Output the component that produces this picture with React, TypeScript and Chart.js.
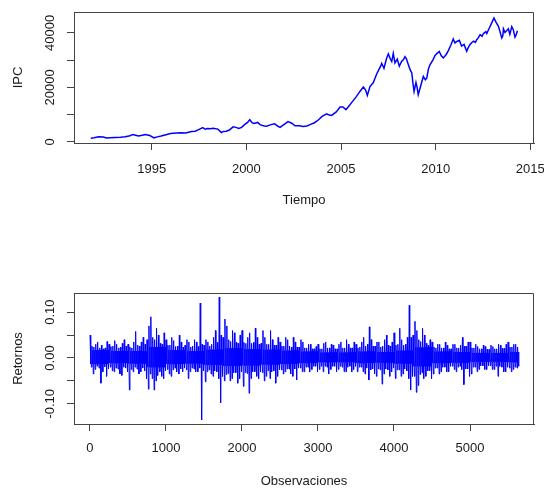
import React, { useEffect, useRef } from "react";
import { Chart, registerables } from "chart.js";

Chart.register(...registerables);

// ---------- Top panel: IPC index over time ----------
const ipcYears = [
  1991.78, 1991.95, 1992.2, 1992.45, 1992.6, 1992.8, 1993.05, 1993.35, 1993.6, 1993.85,
  1994.0, 1994.15, 1994.3, 1994.5, 1994.66, 1994.9, 1995.12, 1995.3, 1995.5, 1995.75,
  1996.0, 1996.3, 1996.55, 1996.8, 1997.1, 1997.3, 1997.45, 1997.7, 1997.82, 1997.94,
  1998.1, 1998.24, 1998.5, 1998.68, 1998.8, 1998.94, 1999.1, 1999.3, 1999.45, 1999.6,
  1999.75, 1999.9, 2000.05, 2000.18, 2000.3, 2000.4, 2000.6, 2000.72, 2000.85, 2000.97,
  2001.07, 2001.3, 2001.5, 2001.65, 2001.78, 2002.0, 2002.2, 2002.4, 2002.57, 2002.8,
  2003.0, 2003.2, 2003.36, 2003.6, 2003.8, 2004.0, 2004.24, 2004.38, 2004.5, 2004.75,
  2004.95, 2005.1, 2005.26, 2005.4, 2005.56, 2005.8, 2006.0, 2006.18, 2006.3, 2006.39,
  2006.53, 2006.7, 2006.89, 2007.0, 2007.08, 2007.15, 2007.27, 2007.4, 2007.5, 2007.6,
  2007.68, 2007.76, 2007.85, 2007.97, 2008.08, 2008.2, 2008.3, 2008.38, 2008.45, 2008.55,
  2008.65, 2008.74, 2008.8, 2008.86, 2008.96, 2009.02, 2009.08, 2009.2, 2009.35, 2009.45,
  2009.53, 2009.62, 2009.7, 2009.85, 2009.97, 2010.08, 2010.19, 2010.3, 2010.4, 2010.55,
  2010.67, 2010.8, 2010.93, 2011.02, 2011.1, 2011.25, 2011.37, 2011.5, 2011.64, 2011.72,
  2011.8, 2011.9, 2012.0, 2012.1, 2012.17, 2012.25, 2012.35, 2012.45, 2012.52, 2012.6,
  2012.65, 2012.7, 2012.78, 2012.85, 2012.95, 2013.08, 2013.2, 2013.31, 2013.4, 2013.49,
  2013.55, 2013.58, 2013.66, 2013.75, 2013.84, 2013.92, 2014.02, 2014.1, 2014.19, 2014.25,
  2014.32,
];
const ipcValues = [
  1300, 1450, 1840, 1750, 1400, 1500, 1600, 1700, 1840, 2200,
  2700, 2400, 2100, 2400, 2700, 2300, 1450, 1800, 2100, 2600,
  3000, 3200, 3300, 3200, 3800, 3900, 4400, 5200, 4600, 4900,
  4800, 5000, 4650, 3400, 3800, 3900, 4300, 5500, 5300, 4900,
  5300, 6300, 7000, 8100, 7000, 6700, 7100, 6300, 6000, 5800,
  5700, 6300, 6600, 5800, 5300, 6400, 7400, 6800, 5900, 5900,
  5600, 5800, 6300, 7000, 8000, 9300, 10300, 9800, 9700, 11000,
  12800, 12800, 11800, 13000, 14400, 16500, 18500, 20100, 19000, 17000,
  20300, 21700, 25000, 26500, 27600, 28800, 27000, 30500, 32300, 30500,
  29500, 32500, 29000, 30400, 27800, 29500, 30200, 31300, 30600, 28500,
  26500, 25300, 21500, 18500, 21800, 20000, 17300, 20300, 24000, 22800,
  23400, 26800, 28300, 30000, 31700, 32500, 33200, 31600, 30800, 32000,
  33500, 35500, 37800, 36300, 36800, 37300, 35200, 35800, 33300, 34600,
  35600, 36400, 37000, 36500, 37500, 38200, 39400, 38800, 39700, 40200,
  40500, 39800, 41000, 42000, 43500, 45500, 43800, 42500, 40500, 38200,
  39000, 41500, 40200, 40800, 41500, 39500, 42300, 41200, 38500, 39300,
  40800,
];
const yearTicks = [1995, 2000, 2005, 2010, 2015];
const ipcTicks = [0, 10000, 20000, 30000, 40000];
const ipcLabeledTicks = [0, 20000, 40000];

// ---------- Bottom panel: returns by observation ----------
// extremes (max / min) of the returns within each block of 25 observations
const retBinSize = 25;
const retHigh = [
  0.050, 0.026, 0.024, 0.030, 0.035, 0.022, 0.028, 0.020, 0.022, 0.036,
  0.030, 0.025, 0.026, 0.038, 0.030, 0.022, 0.024, 0.032, 0.040, 0.026,
  0.030, 0.024, 0.022, 0.035, 0.058, 0.028, 0.026, 0.035, 0.045, 0.030,
  0.040, 0.070, 0.090, 0.045, 0.040, 0.065, 0.050, 0.032, 0.030, 0.055,
  0.040, 0.028, 0.028, 0.045, 0.038, 0.025, 0.026, 0.050, 0.035, 0.024,
  0.028, 0.040, 0.035, 0.024, 0.026, 0.040, 0.035, 0.025, 0.120, 0.030,
  0.028, 0.040, 0.035, 0.026, 0.030, 0.045, 0.060, 0.034, 0.133, 0.050,
  0.045, 0.085, 0.070, 0.040, 0.036, 0.060, 0.055, 0.034, 0.032, 0.050,
  0.060, 0.034, 0.032, 0.045, 0.055, 0.032, 0.034, 0.065, 0.045, 0.030,
  0.032, 0.060, 0.045, 0.030, 0.030, 0.060, 0.040, 0.028, 0.028, 0.045,
  0.035, 0.026, 0.026, 0.045, 0.040, 0.026, 0.024, 0.045, 0.035, 0.024,
  0.024, 0.040, 0.035, 0.022, 0.022, 0.030, 0.030, 0.020, 0.020, 0.025,
  0.030, 0.020, 0.020, 0.032, 0.035, 0.022, 0.022, 0.030, 0.028, 0.020,
  0.020, 0.030, 0.035, 0.022, 0.022, 0.040, 0.030, 0.022, 0.022, 0.035,
  0.030, 0.022, 0.024, 0.035, 0.045, 0.026, 0.030, 0.068, 0.040, 0.026,
  0.026, 0.035, 0.035, 0.024, 0.026, 0.040, 0.050, 0.028, 0.026, 0.035,
  0.055, 0.028, 0.030, 0.065, 0.040, 0.028, 0.030, 0.045, 0.115, 0.045,
  0.050, 0.080, 0.060, 0.040, 0.036, 0.065, 0.050, 0.032, 0.028, 0.040,
  0.035, 0.024, 0.022, 0.030, 0.030, 0.022, 0.022, 0.035, 0.028, 0.020,
  0.020, 0.030, 0.030, 0.022, 0.022, 0.028, 0.045, 0.026, 0.026, 0.035,
  0.035, 0.022, 0.022, 0.030, 0.025, 0.020, 0.020, 0.028, 0.025, 0.019,
  0.019, 0.028, 0.025, 0.020, 0.020, 0.030, 0.028, 0.021, 0.021, 0.030,
  0.035, 0.024, 0.024, 0.030, 0.030, 0.024,
];
const retLow = [
  -0.020, -0.035, -0.025, -0.018, -0.022, -0.055, -0.030, -0.019, -0.040, -0.024,
  -0.020, -0.028, -0.030, -0.022, -0.024, -0.035, -0.038, -0.020, -0.022, -0.030,
  -0.070, -0.025, -0.030, -0.020, -0.024, -0.035, -0.030, -0.022, -0.028, -0.045,
  -0.068, -0.035, -0.045, -0.070, -0.050, -0.038, -0.030, -0.040, -0.045, -0.028,
  -0.025, -0.035, -0.040, -0.026, -0.022, -0.030, -0.035, -0.024, -0.030, -0.022,
  -0.026, -0.045, -0.030, -0.022, -0.024, -0.030, -0.030, -0.022, -0.135, -0.028,
  -0.052, -0.030, -0.026, -0.035, -0.040, -0.028, -0.030, -0.045, -0.098, -0.040,
  -0.050, -0.036, -0.034, -0.050, -0.045, -0.032, -0.032, -0.055, -0.045, -0.030,
  -0.062, -0.032, -0.034, -0.077, -0.045, -0.030, -0.030, -0.040, -0.045, -0.030,
  -0.032, -0.050, -0.040, -0.028, -0.045, -0.030, -0.028, -0.055, -0.040, -0.026,
  -0.026, -0.035, -0.030, -0.024, -0.024, -0.035, -0.040, -0.024, -0.048, -0.022,
  -0.022, -0.030, -0.030, -0.020, -0.020, -0.030, -0.025, -0.018, -0.018, -0.030,
  -0.025, -0.018, -0.030, -0.018, -0.020, -0.035, -0.025, -0.018, -0.018, -0.030,
  -0.025, -0.018, -0.020, -0.030, -0.030, -0.020, -0.018, -0.030, -0.025, -0.018,
  -0.030, -0.020, -0.020, -0.030, -0.035, -0.022, -0.048, -0.026, -0.024, -0.035,
  -0.040, -0.024, -0.026, -0.057, -0.035, -0.024, -0.026, -0.040, -0.030, -0.022,
  -0.045, -0.026, -0.026, -0.040, -0.035, -0.024, -0.028, -0.045, -0.070, -0.040,
  -0.040, -0.075, -0.060, -0.036, -0.032, -0.045, -0.040, -0.028, -0.028, -0.045,
  -0.035, -0.022, -0.022, -0.035, -0.030, -0.020, -0.020, -0.030, -0.030, -0.018,
  -0.018, -0.025, -0.030, -0.020, -0.018, -0.025, -0.058, -0.024, -0.024, -0.040,
  -0.035, -0.020, -0.020, -0.030, -0.025, -0.017, -0.017, -0.025, -0.025, -0.017,
  -0.017, -0.025, -0.025, -0.018, -0.040, -0.018, -0.020, -0.030, -0.030, -0.020,
  -0.022, -0.030, -0.025, -0.020, -0.022, -0.018,
];
// edges of the densest core band, per block of 250 observations
const retCoreBlock = 250;
const retCoreHigh = [
  0.017, 0.015, 0.015, 0.024, 0.017, 0.015, 0.018, 0.021, 0.019, 0.018,
  0.016, 0.014, 0.012, 0.012, 0.014, 0.013, 0.016, 0.023, 0.014, 0.013,
  0.011, 0.011, 0.013,
];
const retCoreLow = [
  -0.013, -0.011, -0.012, -0.020, -0.013, -0.012, -0.015, -0.017, -0.016, -0.014,
  -0.013, -0.011, -0.009, -0.009, -0.011, -0.010, -0.012, -0.018, -0.011, -0.010,
  -0.008, -0.008, -0.009,
];
const obsTicks = [0, 1000, 2000, 3000, 4000, 5000];
const retTicks = [-0.1, -0.05, 0, 0.05, 0.1];
const retLabeledTicks = [-0.1, 0, 0.1];

// ---------- styling ----------
const FONT = "'Liberation Sans', Arial, Helvetica, sans-serif";
const TEXT = "#1a1a1a";
const AXIS = "#444444";
const LINE = "#0000ff";

const boxPlugin = {
  id: "rbox",
  afterDraw(chart: any) {
    const { ctx, chartArea: a } = chart;
    const l = Math.round(a.left) + 0.5;
    const r = Math.round(a.right) - 0.5;
    const t = Math.round(a.top) + 0.5;
    const b = Math.round(a.bottom) + 0.5;
    ctx.save();
    ctx.strokeStyle = AXIS;
    ctx.lineWidth = 1;
    ctx.beginPath();
    ctx.moveTo(l, t);
    ctx.lineTo(r, t);
    ctx.lineTo(r, b);
    ctx.stroke();
    ctx.restore();
  },
};

function xScale(o: any) {
  return {
    type: "linear",
    position: "bottom",
    min: o.min,
    max: o.max,
    afterBuildTicks: (s: any) => {
      s.ticks = o.ticks.map((v: number) => ({ value: v }));
    },
    afterFit: (s: any) => {
      s.height = o.height;
      s.paddingLeft = 0;
      s.paddingRight = 0;
    },
    grid: { drawOnChartArea: false, drawTicks: true, tickLength: 7, color: AXIS, lineWidth: 1 },
    border: { display: true, color: AXIS, width: 1 },
    ticks: {
      autoSkip: false,
      minRotation: 0,
      maxRotation: 0,
      padding: o.tickPad,
      color: TEXT,
      font: { family: FONT, size: 13 },
      callback: (v: any) => String(v),
    },
    title: {
      display: true,
      text: o.title,
      color: TEXT,
      font: { family: FONT, size: 13 },
      padding: { top: 0, bottom: o.titlePad },
    },
  };
}

function yScale(o: any) {
  return {
    type: "linear",
    position: "left",
    min: o.min,
    max: o.max,
    afterBuildTicks: (s: any) => {
      s.ticks = o.ticks.map((v: number) => ({ value: v }));
    },
    afterFit: (s: any) => {
      s.width = 74;
      s.paddingTop = 0;
      s.paddingBottom = 0;
    },
    grid: { drawOnChartArea: false, drawTicks: true, tickLength: 7, color: AXIS, lineWidth: 1 },
    border: { display: true, color: AXIS, width: 1 },
    ticks: {
      autoSkip: false,
      minRotation: 90,
      maxRotation: 90,
      crossAlign: "center",
      padding: o.tickPad,
      color: TEXT,
      font: { family: FONT, size: 13 },
      callback: o.label,
    },
    title: {
      display: true,
      text: o.title,
      color: TEXT,
      font: { family: FONT, size: 13 },
      padding: { top: o.titlePad, bottom: 0 },
    },
  };
}

function baseOptions(padTop: number, scales: any) {
  return {
    responsive: false,
    animation: false,
    devicePixelRatio: 1,
    events: [],
    layout: { padding: { top: padTop, right: 10, left: 0, bottom: 0 } },
    plugins: { legend: { display: false }, tooltip: { enabled: false } },
    scales,
  };
}

export default function App() {
  const topRef = useRef<HTMLCanvasElement | null>(null);
  const botRef = useRef<HTMLCanvasElement | null>(null);

  useEffect(() => {
    const ipcData = ipcYears.map((x, i) => ({ x, y: ipcValues[i] }));

    // each 25-observation block: its maximum, the core band edges, its minimum
    const retPoints: { x: number; y: number }[] = [];
    retHigh.forEach((hi, i) => {
      const base = i * retBinSize;
      const blk = Math.min(Math.floor(base / retCoreBlock), retCoreHigh.length - 1);
      retPoints.push(
        { x: base + 1, y: hi },
        { x: base + 7, y: retCoreLow[blk] },
        { x: base + 13, y: retCoreHigh[blk] },
        { x: base + 19, y: retLow[i] }
      );
    });

    const top = new Chart(topRef.current as HTMLCanvasElement, {
      type: "line",
      data: {
        datasets: [
          {
            data: ipcData,
            borderColor: LINE,
            borderWidth: 1.5,
            pointRadius: 0,
            tension: 0,
            fill: false,
          },
        ],
      },
      options: baseOptions(12, {
        x: xScale({
          min: 1990.895,
          max: 2015.195,
          ticks: yearTicks,
          height: 103,
          tickPad: 12,
          title: "Tiempo",
          titlePad: 37.7,
        }),
        y: yScale({
          min: -450,
          max: 47700,
          ticks: ipcTicks,
          tickPad: -1,
          title: "IPC",
          titlePad: 10.9,
          label: (v: any) => (ipcLabeledTicks.includes(v) ? String(v) : ""),
        }),
      }) as any,
      plugins: [boxPlugin],
    });

    const bot = new Chart(botRef.current as HTMLCanvasElement, {
      type: "line",
      data: {
        datasets: [
          {
            data: retPoints,
            borderColor: LINE,
            borderWidth: 1,
            pointRadius: 0,
            tension: 0,
            fill: false,
          },
        ],
      },
      options: baseOptions(47, {
        x: xScale({
          min: -210,
          max: 5842,
          ticks: obsTicks,
          height: 68,
          tickPad: 10,
          title: "Observaciones",
          titlePad: 2.7,
        }),
        y: yScale({
          min: -0.1441,
          max: 0.1419,
          ticks: retTicks,
          tickPad: 2.2,
          title: "Retornos",
          titlePad: 10.5,
          label: (v: any) =>
            retLabeledTicks.some((t) => Math.abs(t - v) < 1e-9) ? Number(v).toFixed(2) : "",
        }),
      }) as any,
      plugins: [boxPlugin],
    });

    return () => {
      top.destroy();
      bot.destroy();
    };
  }, []);

  return (
    <div style={{ position: "fixed", left: 0, top: 0, width: 544, height: 492, background: "#ffffff" }}>
      <canvas ref={topRef} width={544} height={246} style={{ display: "block", width: 544, height: 246 }} />
      <canvas ref={botRef} width={544} height={246} style={{ display: "block", width: 544, height: 246 }} />
    </div>
  );
}
